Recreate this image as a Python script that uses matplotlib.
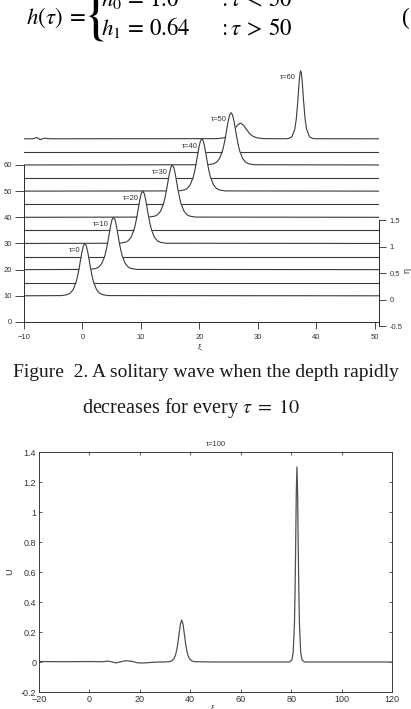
import matplotlib
matplotlib.use("Agg")
import matplotlib.pyplot as plt
from matplotlib.ticker import FormatStrFormatter
import numpy as np

W, H = 411, 709
DPI = 100

LINE_DARK = "#3a3a3a"
AXIS_DARK = "#2a2a2a"
TICK_GRAY = "#333333"

plt.rcParams.update({
    "font.family": ["Liberation Sans", "DejaVu Sans"],
    "mathtext.fontset": "stix",
    "axes.linewidth": 0.7,
})

# --- Fig. 2 waterfall: eta(xi) every 10 time units, stacked by 10 on the left scale
TAU_LABELS = ["τ=0", "τ=10", "τ=20", "τ=30", "τ=40", "τ=50", "τ=60"]
CURVE_OFFSETS = [10, 20, 30, 40, 50, 60, 70]
FLAT_OFFSETS = [15, 25, 35, 45, 55, 65]
ETA_SCALE = 20  # left-axis units per unit of eta

# one solitary wave of unit height (tau = 0 ... 50 all keep this profile)
ETA_H0 = [0, 0.004, 0.022, 0.051, 0.118, 0.258, 0.370, 0.511, 0.674, 0.834, 0.955,
          1.0, 0.955, 0.834, 0.674, 0.511, 0.370, 0.258, 0.118, 0.051, 0.022, 0.004, 0]
XI_T0 = [-10, -3.6, -2.6, -2.1, -1.6, -1.1, -0.85, -0.6, -0.35, -0.1, 0.15,
         0.4, 0.65, 0.9, 1.15, 1.4, 1.65, 1.9, 2.4, 2.9, 3.4, 4.4, 50.6]
XI_T10 = [-10, 1.3, 2.3, 2.8, 3.3, 3.8, 4.05, 4.3, 4.55, 4.8, 5.05,
          5.3, 5.55, 5.8, 6.05, 6.3, 6.55, 6.8, 7.3, 7.8, 8.3, 9.3, 50.6]
XI_T20 = [-10, 6.3, 7.3, 7.8, 8.3, 8.8, 9.05, 9.3, 9.55, 9.8, 10.05,
          10.3, 10.55, 10.8, 11.05, 11.3, 11.55, 11.8, 12.3, 12.8, 13.3, 14.3, 50.6]
XI_T30 = [-10, 11.35, 12.35, 12.85, 13.35, 13.85, 14.1, 14.35, 14.6, 14.85, 15.1,
          15.35, 15.6, 15.85, 16.1, 16.35, 16.6, 16.85, 17.35, 17.85, 18.35, 19.35, 50.6]
XI_T40 = [-10, 16.4, 17.4, 17.9, 18.4, 18.9, 19.15, 19.4, 19.65, 19.9, 20.15,
          20.4, 20.65, 20.9, 21.15, 21.4, 21.65, 21.9, 22.4, 22.9, 23.4, 24.4, 50.6]
XI_T50 = [-10, 21.4, 22.4, 22.9, 23.4, 23.9, 24.15, 24.4, 24.65, 24.9, 25.15,
          25.4, 25.65, 25.9, 26.15, 26.4, 26.65, 26.9, 27.4, 27.9, 28.4, 29.4, 50.6]
# after the depth drop: a small trailing wave and a taller, narrower one
XI_T60 = [-10, -8.5, -7.8, -7.2, -6.5, -5.5,
          23.0, 24.0, 24.5, 25.0, 25.5, 26.0, 26.5, 27.0, 27.5, 28.0, 28.5, 29.0, 29.5, 30.0, 31.0,
          34.8, 35.3, 35.8, 36.3, 36.55, 36.8, 36.925, 37.05, 37.175, 37.3,
          37.425, 37.55, 37.675, 37.8, 38.05, 38.3, 38.8, 39.3, 39.8, 50.6]
ETA_T60 = [0, 0, 0.025, -0.015, 0.012, 0,
           0.003, 0.015, 0.030, 0.058, 0.109, 0.184, 0.263, 0.30, 0.263, 0.184, 0.109, 0.058, 0.030, 0.015, 0.003,
           0.001, 0.008, 0.039, 0.186, 0.382, 0.712, 0.913, 1.106, 1.247, 1.30,
           1.247, 1.106, 0.913, 0.712, 0.382, 0.186, 0.039, 0.008, 0.001, 0]

CURVES_XI = [XI_T0, XI_T10, XI_T20, XI_T30, XI_T40, XI_T50, XI_T60]
CURVES_ETA = [ETA_H0, ETA_H0, ETA_H0, ETA_H0, ETA_H0, ETA_H0, ETA_T60]

# right-hand eta scale of the waterfall
ETA_ZERO_ON_LEFT = 8.5
ETA_UNIT_ON_LEFT = 20.3

# --- tau = 100 snapshot
XI_100 = [-20, -10, 0, 5, 7.5, 9, 10.5, 12.5, 14.5, 17, 19, 21, 23.5, 26, 29,
          31.6, 32.6, 33.6, 34.1, 34.6, 35.1, 35.6, 36.1, 36.6, 37.1,
          37.6, 38.1, 38.6, 39.1, 39.6, 40.6, 41.6, 50, 60, 70,
          79.3, 80.3, 80.8, 81.3, 81.55, 81.8, 82.05, 82.3,
          82.55, 82.8, 83.05, 83.3, 83.8, 84.3, 85.3, 100, 120]
U_100 = [0.003, 0.002, 0.003, 0.002, 0.006, 0.0, -0.006, 0.002, 0.009, 0.004,
         -0.005, -0.007, -0.004, -0.001, 0.0,
         0.002, 0.007, 0.024, 0.044, 0.077, 0.128, 0.193, 0.254, 0.28, 0.254,
         0.193, 0.128, 0.077, 0.044, 0.024, 0.007, 0.002, 0.0, 0.0, 0.0,
         0.0, 0.014, 0.062, 0.249, 0.465, 0.790, 1.139, 1.3,
         1.139, 0.790, 0.465, 0.249, 0.062, 0.014, 0.0, 0.0, 0.0]

TOP_XTICKS = [-10, 0, 10, 20, 30, 40, 50]
TOP_YTICKS = [0, 10, 20, 30, 40, 50, 60]
ETA_TICKS = [-0.5, 0, 0.5, 1, 1.5]
BOT_XTICKS = [-20, 0, 20, 40, 60, 80, 100, 120]
BOT_YTICKS = [-0.2, 0, 0.2, 0.4, 0.6, 0.8, 1.0, 1.2, 1.4]


def fx(px):
    return px / W


def fy(py):
    return 1 - py / H


fig = plt.figure(figsize=(W / DPI, H / DPI), dpi=DPI)
fig.patch.set_facecolor("white")

# ---------------- equation (top, partly cut off by the page crop)
EQ_SIZE = 16.5
fig.text(fx(26), fy(24), r"$h(\tau)\;=$", fontsize=EQ_SIZE, va="baseline", ha="left")
fig.text(fx(93), fy(16), r"$\{$", fontsize=42, va="center", ha="center")
fig.text(fx(101), fy(6), r"$h_0\,=\,1.0$", fontsize=EQ_SIZE, va="baseline")
fig.text(fx(218), fy(6), r"$:\tau\,<\,50$", fontsize=EQ_SIZE, va="baseline")
fig.text(fx(101), fy(35), r"$h_1\,=\,0.64$", fontsize=EQ_SIZE, va="baseline")
fig.text(fx(218), fy(35), r"$:\tau\,>\,50$", fontsize=EQ_SIZE, va="baseline")
fig.text(fx(402), fy(24), "(1)", fontsize=EQ_SIZE, family="Liberation Serif", va="baseline")

# ---------------- waterfall
ax = fig.add_axes([fx(24), fy(327.2), fx(378.5) - fx(24), fy(62.9) - fy(327.2)])
ax.set_xlim(-10, 50.6)
ax.set_ylim(-2, 99)

n = len(CURVES_XI)
for k in range(n - 1, -1, -1):
    xi = np.asarray(CURVES_XI[k])
    y = CURVE_OFFSETS[k] + ETA_SCALE * np.asarray(CURVES_ETA[k])
    z = 2 * (n - k)
    ax.fill_between(xi, CURVE_OFFSETS[k], y, color="white", lw=0, zorder=z)
    ax.plot(xi, y, color=LINE_DARK, lw=0.8, zorder=z + 0.5)
    i = int(np.argmax(y))
    ax.annotate(TAU_LABELS[k], xy=(xi[i], y[i]), xytext=(-3.2, -5.2),
                textcoords="offset points", ha="right", va="center",
                fontsize=5.5, color=TICK_GRAY, zorder=40)
    if k > 0:
        off = FLAT_OFFSETS[k - 1]
        ax.plot([-10, 50.6], [off, off], color=LINE_DARK, lw=0.8, zorder=z - 1)

for s in ("top", "right"):
    ax.spines[s].set_visible(False)
ax.spines["left"].set_bounds(0, 60)
ax.spines["bottom"].set_position(("data", 0))
for s in ("left", "bottom"):
    ax.spines[s].set_color(AXIS_DARK)
    ax.spines[s].set_linewidth(0.7)
ax.set_xticks(TOP_XTICKS)
ax.set_yticks(TOP_YTICKS)
ax.tick_params(axis="y", direction="out", length=6.5, width=0.6, labelsize=5.5,
               colors=AXIS_DARK, labelcolor=TICK_GRAY, pad=2)
ax.tick_params(axis="x", direction="out", length=5, width=0.6, labelsize=5.5,
               colors=AXIS_DARK, labelcolor=TICK_GRAY, pad=4)

axr = ax.twinx()
axr.set_ylim((-2 - ETA_ZERO_ON_LEFT) / ETA_UNIT_ON_LEFT, (99 - ETA_ZERO_ON_LEFT) / ETA_UNIT_ON_LEFT)
for s in ("top", "left", "bottom"):
    axr.spines[s].set_visible(False)
axr.spines["right"].set_bounds(-0.5, 1.5)
axr.spines["right"].set_color(AXIS_DARK)
axr.spines["right"].set_linewidth(0.7)
axr.set_yticks(ETA_TICKS)
axr.yaxis.set_major_formatter(FormatStrFormatter("%g"))
axr.tick_params(axis="y", direction="out", length=5, width=0.6, labelsize=5.5,
                colors=AXIS_DARK, labelcolor=TICK_GRAY, pad=3)

fig.text(fx(199), fy(347), "ξ", fontsize=6, color=TICK_GRAY, ha="center", va="center")
fig.text(fx(407), fy(270), "η", fontsize=6.5, color=TICK_GRAY, ha="center", va="center",
         rotation=90)

# ---------------- caption
CAP_FONT = "Liberation Serif"
fig.text(fx(206), fy(377), "Figure  2. A solitary wave when the depth rapidly",
         fontsize=14, family=CAP_FONT, ha="center", va="baseline", color="#1a1a1a")
fig.text(fx(191), fy(413), r"decreases for every $\tau\;=\;10$", fontsize=14.5,
         family=CAP_FONT, ha="center", va="baseline", color="#1a1a1a")

# ---------------- tau = 100
axb = fig.add_axes([fx(39), fy(692), fx(392) - fx(39), fy(452) - fy(692)])
axb.plot(XI_100, U_100, color="#505050", lw=0.9)
axb.set_xlim(-20, 120)
axb.set_ylim(-0.2, 1.4)
axb.set_xticks(BOT_XTICKS)
axb.set_yticks(BOT_YTICKS)
axb.yaxis.set_major_formatter(FormatStrFormatter("%g"))
for s in axb.spines.values():
    s.set_color("#3a3a3a")
    s.set_linewidth(0.7)
axb.tick_params(direction="in", length=2.5, width=0.6, labelsize=6.5,
                top=True, right=True, colors="#3a3a3a", labelcolor=TICK_GRAY, pad=2)
axb.set_title("τ=100", fontsize=5.5, color=TICK_GRAY, pad=4)
fig.text(fx(10), fy(572), "U", fontsize=6.5, color=TICK_GRAY, ha="center", va="center",
         rotation=90)
fig.text(fx(212), fy(708), "ξ", fontsize=6, color=TICK_GRAY, ha="center", va="center")

fig.savefig("out.png", dpi=DPI)
